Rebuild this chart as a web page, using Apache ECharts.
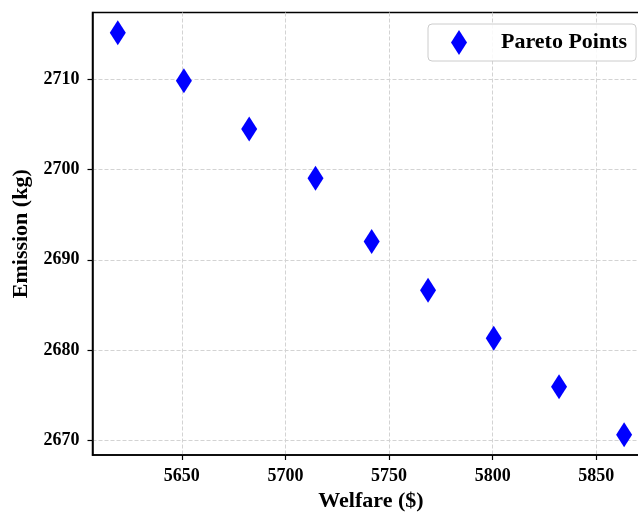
<!DOCTYPE html>
<html>
<head>
<meta charset="utf-8">
<script src="https://cdn.jsdelivr.net/npm/echarts@6/dist/echarts.min.js"></script>
<style>
html,body{margin:0;padding:0;background:#fff;}
#c{width:638px;height:512px;}
</style>
</head>
<body>
<div id="c"></div>
<script>
const welfare = [5619.1, 5651.0, 5682.5, 5714.5, 5741.6, 5768.8, 5800.5, 5832.0, 5863.4];
const emission = [2715.17, 2709.85, 2704.48, 2699.03, 2692.03, 2686.63, 2681.3, 2675.93, 2670.6];
const xTicks = [5650, 5700, 5750, 5800, 5850];
const yTicks = [2670, 2680, 2690, 2700, 2710];
const seriesName = 'Pareto Points';

const FONT = '"Liberation Serif", "Times New Roman", serif';
const chart = echarts.init(document.getElementById('c'), null, {renderer: 'canvas'});
const points = welfare.map((w, i) => [w, emission[i]]);

const axisCommon = {
  axisLine: {show: true, onZero: false, lineStyle: {color: '#000', width: 1.5}},
  axisTick: {show: true, inside: false, length: 5, lineStyle: {color: '#000', width: 1.2}},
  splitLine: {show: true, lineStyle: {color: '#d3d3d3', width: 1, type: [4, 2]}},
  nameTextStyle: {fontFamily: FONT, fontWeight: 'bold', fontSize: 22, color: '#000'}
};
const plainNum = v => String(Math.round(v));

chart.setOption({
  animation: false,
  backgroundColor: '#fff',
  grid: {left: 92.5, top: 12.5, right: -11.4, bottom: 57, containLabel: false, outerBoundsMode: 'none',
         show: true, borderColor: '#000', borderWidth: 1.5, backgroundColor: 'transparent'},
  legend: {
    data: [seriesName],
    left: 428,
    top: 24,
    icon: 'diamond',
    itemWidth: 16,
    itemHeight: 25,
    padding: [6, 9, 6, 23],
    borderColor: '#cccccc',
    borderWidth: 1,
    borderRadius: 4,
    backgroundColor: 'rgba(255,255,255,0.85)',
    textStyle: {fontFamily: FONT, fontWeight: 'bold', fontSize: 22, color: '#000', padding: [0, 0, 0, 29]}
  },
  xAxis: Object.assign({}, axisCommon, {
    type: 'value',
    min: 5606.9,
    max: 5875.6,
    name: 'Welfare ($)',
    nameLocation: 'middle',
    nameGap: 35,
    axisTick: Object.assign({}, axisCommon.axisTick, {customValues: xTicks}),
    axisLabel: {customValues: xTicks, formatter: plainNum, margin: 12, fontFamily: FONT, fontWeight: 'bold', fontSize: 18, color: '#000'}
  }),
  yAxis: Object.assign({}, axisCommon, {
    type: 'value',
    min: 2668.37,
    max: 2717.4,
    name: 'Emission (kg)',
    nameLocation: 'middle',
    nameGap: 55,
    axisTick: Object.assign({}, axisCommon.axisTick, {customValues: yTicks}),
    axisLabel: {customValues: yTicks, formatter: plainNum, margin: 13, fontFamily: FONT, fontWeight: 'bold', fontSize: 18, color: '#000'}
  }),
  series: [{
    name: seriesName,
    type: 'scatter',
    data: points,
    symbol: 'diamond',
    symbolSize: [16, 25],
    itemStyle: {color: '#0000ff', opacity: 1}
  }]
});
</script>
</body>
</html>
